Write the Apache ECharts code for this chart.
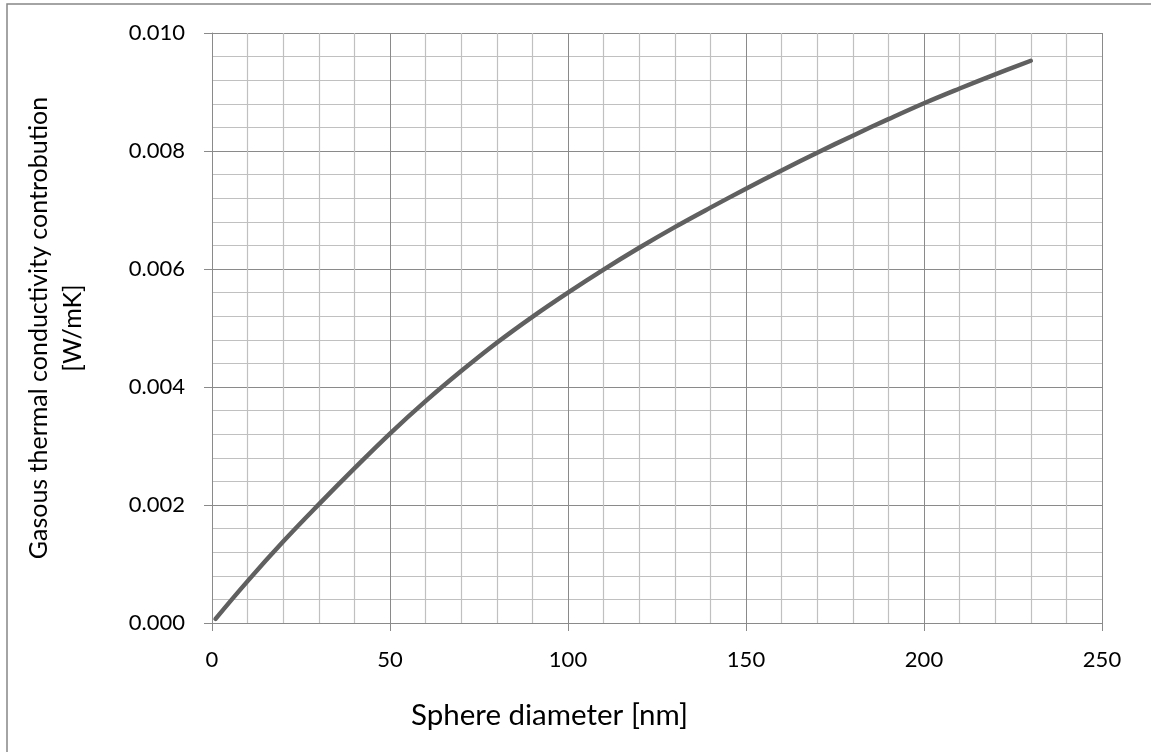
<!DOCTYPE html>
<html>
<head>
<meta charset="utf-8">
<title>Gasous thermal conductivity contribution</title>
<script src="https://cdn.jsdelivr.net/npm/echarts@6/dist/echarts.min.js"></script>
<style>
  html, body { margin: 0; padding: 0; background: #ffffff; }
  #chart { width: 1151px; height: 752px; }
</style>
</head>
<body>
<div id="chart"></div>
<script>
// Sphere diameter [nm]
const diameters = [1, 10, 20, 30, 40, 50, 60, 70, 80, 90, 100, 110, 120, 130, 140,
                   150, 160, 170, 180, 190, 200, 210, 220, 230];
// Gasous thermal conductivity contribution [W/mK]
const conductivity = [0.00007, 0.00071, 0.00138, 0.00201, 0.00262, 0.00321, 0.00376,
                      0.00427, 0.00475, 0.00519, 0.00560, 0.00599, 0.00636, 0.00671,
                      0.00704, 0.00736, 0.00767, 0.00797, 0.00826, 0.00854, 0.00881,
                      0.00906, 0.00930, 0.00953];

const xTitle = 'Sphere diameter [nm]';
const yTitle = 'Gasous thermal conductivity controbution\n[W/mK]';

const FONT = 'Lato';
const TEXT = '#000000';
const MAJOR = '#8a8a8a';
const MINOR = '#c0c0c0';

const chart = echarts.init(document.getElementById('chart'), null, { renderer: 'canvas' });

chart.setOption({
  backgroundColor: '#ffffff',
  animation: false,
  title: {
    text: xTitle,
    left: 411,
    top: 700,
    padding: 0,
    textStyle: { fontFamily: FONT, fontSize: 29.5, fontWeight: 'normal', color: TEXT }
  },
  graphic: [{
    type: 'rect',
    shape: { x: 7, y: 4, width: 1300, height: 900 },
    style: { fill: 'none', stroke: '#878787', lineWidth: 1.5 },
    silent: true
  }],
  grid: {
    left: 212, right: 49, top: 33, bottom: 129,
    outerBoundsMode: 'none'
  },
  xAxis: {
    type: 'value',
    min: 0,
    max: 250,
    interval: 50,
    axisLine: { show: true, lineStyle: { color: MAJOR, width: 1 } },
    axisTick: { show: true, length: 8, lineStyle: { color: MAJOR } },
    axisLabel: { fontFamily: FONT, fontSize: 22, color: TEXT, margin: 26 },
    splitLine: { show: true, lineStyle: { color: MAJOR, width: 1 } },
    minorTick: { show: false, splitNumber: 5 },
    minorSplitLine: { show: true, lineStyle: { color: MINOR, width: 1.2 } }
  },
  yAxis: {
    type: 'value',
    min: 0,
    max: 0.010,
    interval: 0.002,
    name: yTitle,
    nameLocation: 'middle',
    nameRotate: 90,
    nameGap: 122,
    nameTextStyle: { fontFamily: FONT, fontSize: 25, color: TEXT, lineHeight: 34 },
    axisLine: { show: true, lineStyle: { color: MAJOR, width: 1 } },
    axisTick: { show: true, length: 8, lineStyle: { color: MAJOR } },
    axisLabel: {
      fontFamily: FONT, fontSize: 22, color: TEXT, margin: 27,
      formatter: v => v.toFixed(3)
    },
    splitLine: { show: true, lineStyle: { color: MAJOR, width: 1 } },
    minorTick: { show: false, splitNumber: 5 },
    minorSplitLine: { show: true, lineStyle: { color: MINOR, width: 1.2 } }
  },
  series: [{
    type: 'line',
    data: diameters.map((d, i) => [d, conductivity[i]]),
    smooth: 0.4,
    showSymbol: false,
    lineStyle: { color: '#606060', width: 4.5, cap: 'round', join: 'round' }
  }]
});
</script>
</body>
</html>
